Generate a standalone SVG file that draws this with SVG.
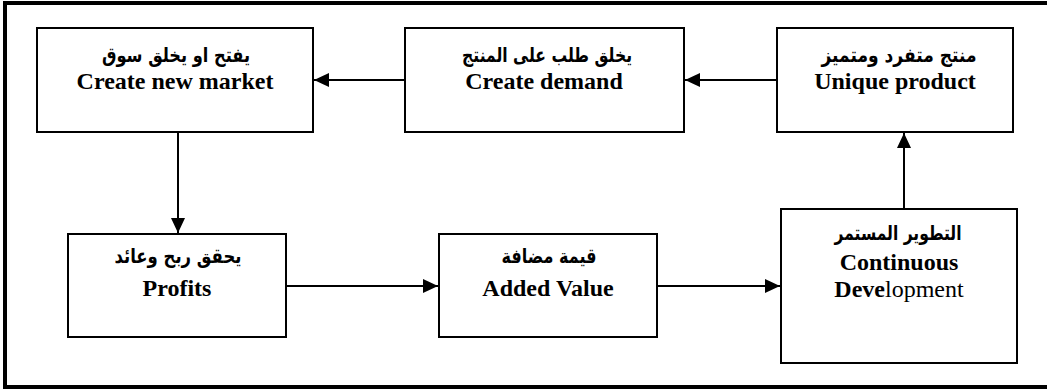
<svg xmlns="http://www.w3.org/2000/svg" width="1047" height="389" viewBox="0 0 1047 389">
<style>
.box{fill:#fff;stroke:#000;stroke-width:2}
.en{font-family:"Liberation Serif","Times New Roman",serif;font-size:24px;font-weight:bold;fill:#000;text-anchor:middle}
.ar{font-family:"DejaVu Sans",sans-serif;font-size:20px;font-weight:bold;fill:#000;text-anchor:middle}
.reg{font-weight:normal}
.conn{stroke:#000;stroke-width:2;fill:none;marker-end:url(#ah)}
.frame{fill:none;stroke:#000;stroke-width:4}
</style>
<defs>
<marker id="ah" markerUnits="userSpaceOnUse" markerWidth="16" markerHeight="14" refX="15" refY="7" orient="auto">
<path d="M0,0 L15,7 L0,14 Z" fill="#000"/>
</marker>
</defs>
<rect width="1047" height="389" fill="#fff"/>
<path class="frame" d="M5,389 L5,3 L1047,3 M5,387 L1047,387"/>
<g id="connectors">
<line class="conn" x1="777" y1="80" x2="685" y2="80"/>
<line class="conn" x1="405" y1="80" x2="314" y2="80"/>
<line class="conn" x1="178" y1="132" x2="178" y2="233"/>
<line class="conn" x1="286" y1="286" x2="438" y2="286"/>
<line class="conn" x1="657" y1="286" x2="780" y2="286"/>
<line class="conn" x1="904" y1="209" x2="904" y2="133"/>
</g>
<g id="n-market">
<rect class="box" x="37" y="28" width="276" height="104"/>
<text class="ar" x="176" y="62" direction="rtl" textLength="148" lengthAdjust="spacingAndGlyphs">يفتح او يخلق سوق</text>
<text class="en" x="175" y="89">Create new market</text>
</g>
<g id="n-demand">
<rect class="box" x="405" y="28" width="279" height="104"/>
<text class="ar" x="547" y="62" direction="rtl" textLength="170" lengthAdjust="spacingAndGlyphs">يخلق طلب على المنتج</text>
<text class="en" x="544" y="89">Create demand</text>
</g>
<g id="n-unique">
<rect class="box" x="777" y="28" width="236" height="104"/>
<text class="ar" x="899" y="62" direction="rtl" textLength="155" lengthAdjust="spacingAndGlyphs">منتج متفرد ومتميز</text>
<text class="en" x="895" y="89">Unique product</text>
</g>
<g id="n-profits">
<rect class="box" x="68" y="234" width="218" height="103"/>
<text class="ar" x="178" y="263" direction="rtl" textLength="127" lengthAdjust="spacingAndGlyphs">يحقق ربح وعائد</text>
<text class="en" x="177" y="296">Profits</text>
</g>
<g id="n-added">
<rect class="box" x="439" y="234" width="218" height="103"/>
<text class="ar" x="549" y="263" direction="rtl" textLength="95" lengthAdjust="spacingAndGlyphs">قيمة مضافة</text>
<text class="en" x="548" y="296">Added Value</text>
</g>
<g id="n-continuous">
<rect class="box" x="781" y="209" width="236" height="154"/>
<text class="ar" x="898" y="240" direction="rtl" textLength="127" lengthAdjust="spacingAndGlyphs">التطوير المستمر</text>
<text class="en" x="899" y="270">Continuous</text>
<text class="en" x="899" y="297">Deve<tspan class="reg">lopment</tspan></text>
</g>
</svg>
